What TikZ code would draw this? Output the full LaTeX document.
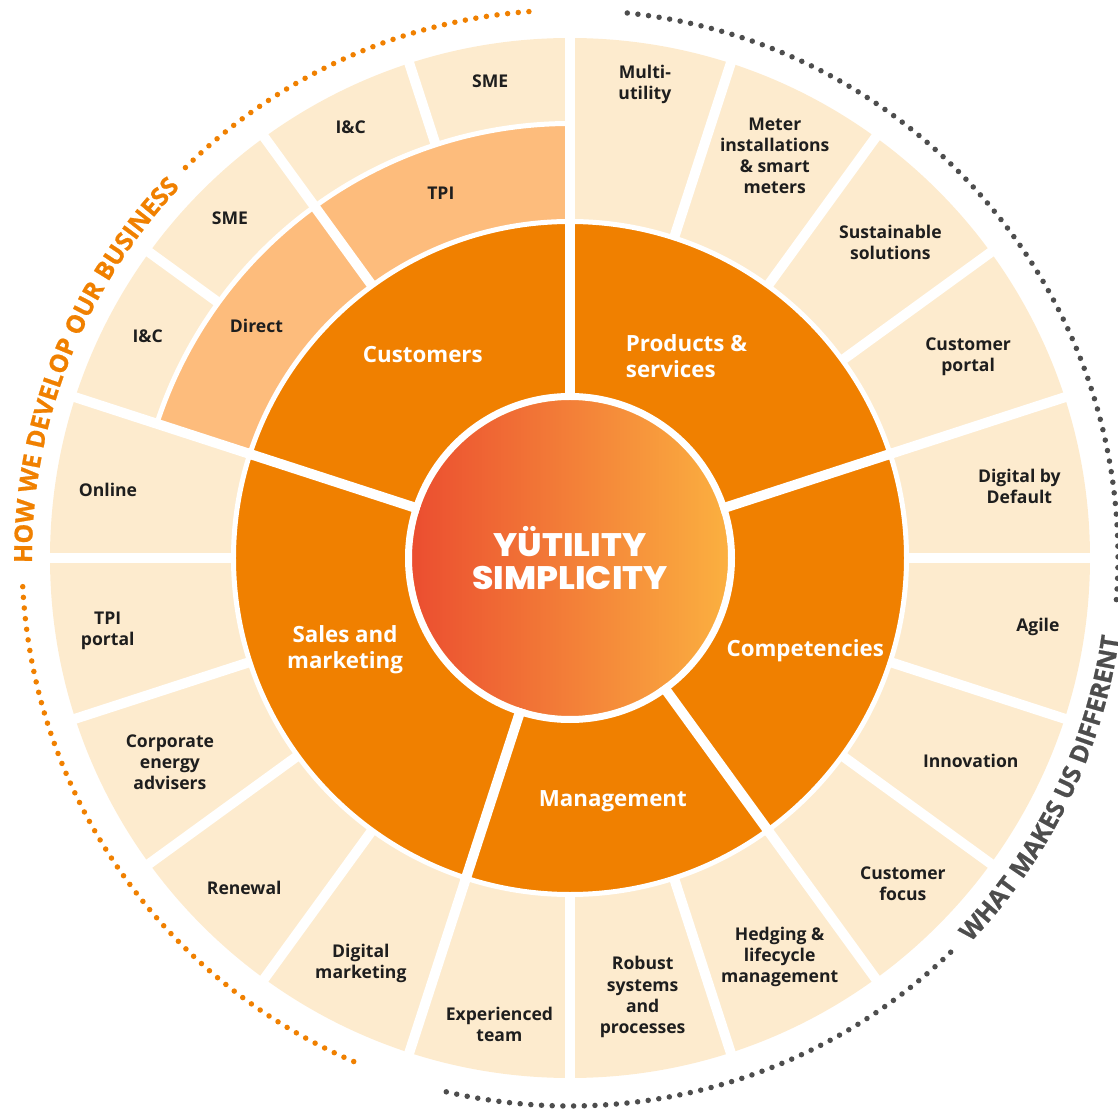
\documentclass[tikz,border=0pt]{standalone}
\usepackage{fontspec}
\setmainfont{Open Sans}
\newfontfamily\titlefont{Poppins ExtraBold}[FakeStretch=1.06]
\newfontfamily\heavyfont{Open Sans}[BoldFeatures={FakeBold=0.8}]
\usepackage{xcolor}
\usepackage{tikz}
\usetikzlibrary{decorations.text}
\definecolor{peach}{RGB}{253,235,206}
\definecolor{apricot}{RGB}{253,188,124}
\definecolor{tangerine}{RGB}{240,128,0}
\definecolor{flame}{RGB}{235,78,48}
\definecolor{amber}{RGB}{251,176,64}
\definecolor{ink}{RGB}{30,30,30}
\definecolor{slate}{RGB}{77,77,77}
\newcommand\arcfont{\heavyfont\bfseries\fontsize{14.2}{16}\selectfont}

\begin{document}
\begin{tikzpicture}[
    x=0.02cm, y=0.02cm,
    gap/.style={white, line width=0.2cm},
    seam/.style={white, line width=0.1cm},
    leaf/.style={font=\fontsize{10}{12}\selectfont\bfseries, text=ink, align=center, inner sep=0pt},
    pillar/.style={font=\fontsize{12.7}{14.8}\selectfont\bfseries, text=white, align=center, inner sep=0pt},
    dots/.style={line width=0.11cm, line cap=round, dash pattern=on 0pt off 0.214cm}
]
    \useasboundingbox (-570,-550) rectangle (548,558);

    % rings and the customer sub-ring
    \fill[peach] (0,0) circle[radius=520];
    \fill[apricot] (90:435) arc[start angle=90, end angle=162, radius=435]
        -- (162:330) arc[start angle=162, end angle=90, radius=330] -- cycle;
    \fill[tangerine] (0,0) circle[radius=336.5];
    \draw[seam] (0,0) circle[radius=336.5];
    \draw[seam] (90:434.5) arc[start angle=90, end angle=162, radius=434.5];

    % white gaps between the segments
    \foreach \a in {0,18,...,342} {
        \pgfmathsetmacro\rin{(\a==108 || \a==144) ? 434.5 : 336.5}
        \draw[gap] (\a:\rin) -- (\a:530);
    }
    \foreach \a in {18,90,162,252,306}
        \draw[gap] (\a:150) -- (\a:340);

    % core
    \shade[left color=flame, right color=amber] (0,0) circle[radius=158];
    \draw[white, line width=0.14cm] (0,0) circle[radius=161.5];
    \node[font=\titlefont\fontsize{18.5}{18.3}\selectfont, text=white, align=center] (core) at (0,0) {YÜTILITY\\SIMPLICITY};

    \node[pillar] (customers) at (125.9:251) {Customers};
    \node[pillar, align=left] (products) at (60:233) {Products \&\\services};
    \node[pillar] (competencies) at (-21.6:253) {Competencies};
    \node[pillar] (management) at (-80:247) {Management};
    \node[pillar] (sales) at (-157.8:243) {Sales and\\marketing};

    \foreach \a/\r/\txt [count=\i] in {
        81/479/Multi-\\utility,
        63/451/Meter\\installations\\\& smart\\meters,
        44.6/450/Sustainable\\solutions,
        26.8/446/Customer\\portal,
        9/455/Digital by\\Default,
        -8.4/473/Agile,
        -26.8/449/Innovation,
        -44.4/466/Customer\\focus,
        -62.3/451/Hedging \&\\lifecycle\\management,
        -80.6/445/Robust\\systems\\and\\processes,
        -98.6/472/Experienced\\team,
        -117.3/456/Digital\\marketing,
        -134.6/464/Renewal,
        -153/449/Corporate\\energy\\advisers,
        -171/468/TPI\\portal,
        171.6/467/Online,
        99.5/483/SME,
        117/483/I\&C,
        135/481/SME,
        152.3/477/I\&C,
        109.5/387/TPI,
        143.5/390/Direct}
        \node[leaf] (leaf\i) at (\a:\r) {\txt};

    % dotted arcs with their captions
    \draw[dots, tangerine] (94.3:548) arc[start angle=94.3, end angle=135, radius=548];
    \draw[dots, tangerine] (183:548) arc[start angle=183, end angle=247, radius=548];
    \draw[dots, slate] (84:548) arc[start angle=84, end angle=-4.5, radius=548];
    \draw[dots, slate] (-46:548) arc[start angle=-46, end angle=-103.5, radius=548];
    \path[decorate, decoration={text along path, text align=center, text color=tangerine,
        text={|\arcfont|HOW WE DEVELOP OUR BUSINESS}}]
        (185:538) arc[start angle=185, end angle=132, radius=538];
    \path[decorate, decoration={text along path, text align=center, text color=slate,
        text={|\arcfont|WHAT MAKES US DIFFERENT}}]
        (-47:555) arc[start angle=-47, end angle=-5, radius=555];
\end{tikzpicture}
\end{document}
